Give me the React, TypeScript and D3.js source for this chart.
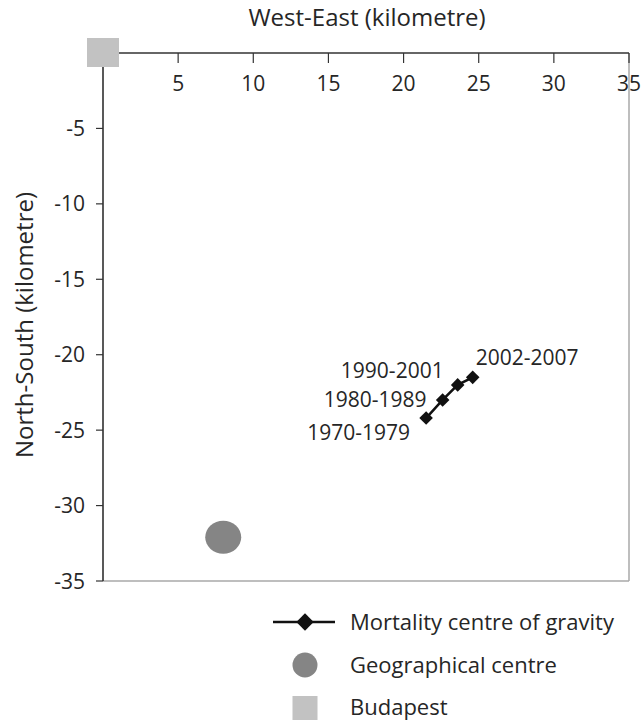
import React from "react";
import * as d3 from "d3";

const periods = ["1970-1979", "1980-1989", "1990-2001", "2002-2007"];
const westEast = [21.5, 22.6, 23.6, 24.6];
const northSouth = [-24.2, -23.0, -22.0, -21.5];
const geoCentre = { x: 8.0, y: -32.1 };
const budapest = { x: 0, y: 0 };
const xTicks = [5, 10, 15, 20, 25, 30, 35];
const yTicks = [-5, -10, -15, -20, -25, -30, -35];
const legendLabels = ["Mortality centre of gravity", "Geographical centre", "Budapest"];

const W = 643;
const H = 721;
const FONT = "'Open Sans', sans-serif";
const TXT = "#262626";

export default function App() {
  const x = d3.scaleLinear().domain([0, 35]).range([103, 629]);
  const y = d3.scaleLinear().domain([0, -35]).range([53, 581]);

  const pts = periods.map((p, i) => ({ p, x: westEast[i], y: northSouth[i] }));
  const line = d3
    .line<{ x: number; y: number }>()
    .x((d) => x(d.x))
    .y((d) => y(d.y));
  const diamond = d3.symbol(d3.symbolSquare, 92)();
  const diamondLg = d3.symbol(d3.symbolSquare, 150)();

  // label placement relative to each point (offsets in px)
  const labelPos = [
    { dx: -16, dy: 14, anchor: "end" },
    { dx: -16, dy: -1, anchor: "end" },
    { dx: -14, dy: -14, anchor: "end" },
    { dx: 3, dy: -20, anchor: "start" },
  ];

  const legX = 305;
  const legTextX = 350;
  const legY = [622, 665, 707];

  return (
    <svg
      width={W}
      height={H}
      style={{ position: "absolute", left: 0, top: 0, background: "#fff" }}
      fontFamily={FONT}
    >
      <rect x={0} y={0} width={W} height={H} fill="#fff" />
      {/* frame: right and bottom light grey */}
      <line x1={x(35)} x2={x(35)} y1={y(0)} y2={y(-35)} stroke="#a8a8a8" strokeWidth={1.5} />
      <line x1={x(0)} x2={x(35)} y1={y(-35)} y2={y(-35)} stroke="#a8a8a8" strokeWidth={1.5} />
      {/* top axis */}
      <line x1={x(0)} x2={x(35)} y1={y(0)} y2={y(0)} stroke="#333" strokeWidth={1.5} />
      {xTicks.map((t) => (
        <g key={"xt" + t}>
          <line x1={x(t)} x2={x(t)} y1={y(0)} y2={y(0) + 10} stroke="#333" strokeWidth={1.2} />
          <text x={x(t)} y={y(0) + 38} textAnchor="middle" fontSize={21} fill={TXT}>
            {String(t)}
          </text>
        </g>
      ))}
      <text x={367} y={26} textAnchor="middle" fontSize={24} fill={TXT}>
        West-East (kilometre)
      </text>
      {/* left axis */}
      <line x1={x(0)} x2={x(0)} y1={y(0)} y2={y(-35)} stroke="#222" strokeWidth={1.5} />
      {yTicks.map((t) => (
        <g key={"yt" + t}>
          <line x1={x(0) - 7} x2={x(0)} y1={y(t)} y2={y(t)} stroke="#333" strokeWidth={1.2} />
          <text x={x(0) - 18} y={y(t)} dy="0.36em" textAnchor="end" fontSize={21} fill={TXT}>
            {String(t)}
          </text>
        </g>
      ))}
      <text
        transform={`translate(33,325) rotate(-90)`}
        textAnchor="middle"
        fontSize={24}
        fill={TXT}
      >
        North-South (kilometre)
      </text>

      {/* Budapest */}
      <rect
        x={x(budapest.x) - 16}
        y={y(budapest.y) - 15}
        width={32}
        height={29}
        fill="#c2c2c2"
      />
      {/* geographical centre */}
      <ellipse cx={x(geoCentre.x)} cy={y(geoCentre.y)} rx={18} ry={16.5} fill="#858585" />

      {/* mortality centre of gravity */}
      <path d={line(pts) || ""} fill="none" stroke="#111" strokeWidth={2.5} />
      {pts.map((d) => (
        <path
          key={d.p}
          d={diamond || ""}
          transform={`translate(${x(d.x)},${y(d.y)}) rotate(45)`}
          fill="#111"
        />
      ))}
      {pts.map((d, i) => (
        <text
          key={"l" + d.p}
          x={x(d.x) + labelPos[i].dx}
          y={y(d.y) + labelPos[i].dy}
          dy="0.36em"
          textAnchor={labelPos[i].anchor as any}
          fontSize={21}
          fill={TXT}
        >
          {d.p}
        </text>
      ))}

      {/* legend */}
      <line x1={legX - 32} x2={legX + 30} y1={legY[0]} y2={legY[0]} stroke="#111" strokeWidth={2.5} />
      <path d={diamondLg || ""} transform={`translate(${legX},${legY[0]}) rotate(45)`} fill="#111" />
      <circle cx={legX} cy={legY[1]} r={12.5} fill="#858585" />
      <rect x={legX - 12.5} y={legY[2] - 11} width={25} height={24} fill="#c2c2c2" />
      {legendLabels.map((l, i) => (
        <text key={l} x={legTextX} y={legY[i]} dy="0.36em" fontSize={22} fill={TXT}>
          {l}
        </text>
      ))}
    </svg>
  );
}
